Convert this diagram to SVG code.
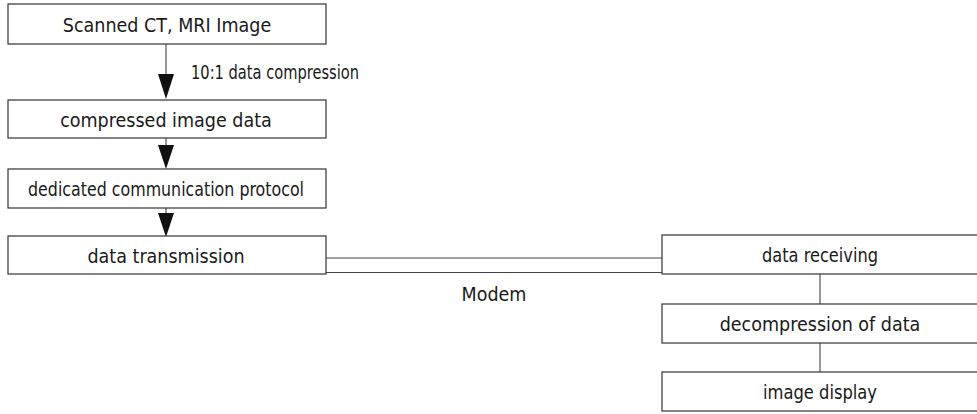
<svg xmlns="http://www.w3.org/2000/svg" width="977" height="414" viewBox="0 0 977 414">
  <style>
    .box { fill: #ffffff; stroke: #333333; stroke-width: 1.2; }
    .lbl { font-family: "DejaVu Sans Condensed", "DejaVu Sans", sans-serif; font-size: 19.5px; fill: #1a1a1a; text-anchor: middle; }
    .note { font-family: "DejaVu Sans Condensed", "DejaVu Sans", sans-serif; font-size: 19px; fill: #1a1a1a; }
    .wire { stroke: #444444; stroke-width: 1.1; fill: none; }
    .head { fill: #111111; }
  </style>
  <rect width="977" height="414" fill="#ffffff"/>

  <g id="connectors">
    <path d="M166,44 L166,74" class="wire"/>
    <path d="M158,74 L174,74 L166,99 Z" class="head"/>
    <path d="M166,138 L166,145" class="wire"/>
    <path d="M158,145 L174,145 L166,169 Z" class="head"/>
    <path d="M166,208 L166,213" class="wire"/>
    <path d="M158,213 L174,213 L166,237 Z" class="head"/>
    <line class="wire" x1="326" y1="258" x2="662" y2="258"/>
    <line class="wire" x1="326" y1="272.5" x2="662" y2="272.5"/>
    <line class="wire" x1="820" y1="274" x2="820" y2="304"/>
    <line class="wire" x1="820" y1="343" x2="820" y2="372"/>
  </g>

  <g id="scan">
    <rect class="box" x="8" y="4" width="318" height="40"/>
    <text class="lbl" x="167" y="32">Scanned CT, MRI Image</text>
  </g>
  <g id="compressed">
    <rect class="box" x="8" y="100" width="318" height="38"/>
    <text class="lbl" x="166" y="126.5">compressed image data</text>
  </g>
  <g id="protocol">
    <rect class="box" x="8" y="169" width="318" height="39"/>
    <text class="lbl" x="166" y="196" textLength="276" lengthAdjust="spacingAndGlyphs">dedicated communication protocol</text>
  </g>
  <g id="transmission">
    <rect class="box" x="8" y="236" width="318" height="38"/>
    <text class="lbl" x="166" y="262.5">data transmission</text>
  </g>
  <g id="receiving">
    <rect class="box" x="662" y="235" width="330" height="39"/>
    <text class="lbl" x="820" y="262" textLength="116" lengthAdjust="spacingAndGlyphs">data receiving</text>
  </g>
  <g id="decompression">
    <rect class="box" x="662" y="304" width="330" height="39"/>
    <text class="lbl" x="820" y="331">decompression of data</text>
  </g>
  <g id="display">
    <rect class="box" x="662" y="372" width="330" height="39"/>
    <text class="lbl" x="820" y="399" textLength="114" lengthAdjust="spacingAndGlyphs">image display</text>
  </g>

  <text class="note" x="191" y="79" textLength="168" lengthAdjust="spacingAndGlyphs">10:1 data compression</text>
  <text class="lbl" x="494" y="301">Modem</text>
</svg>
